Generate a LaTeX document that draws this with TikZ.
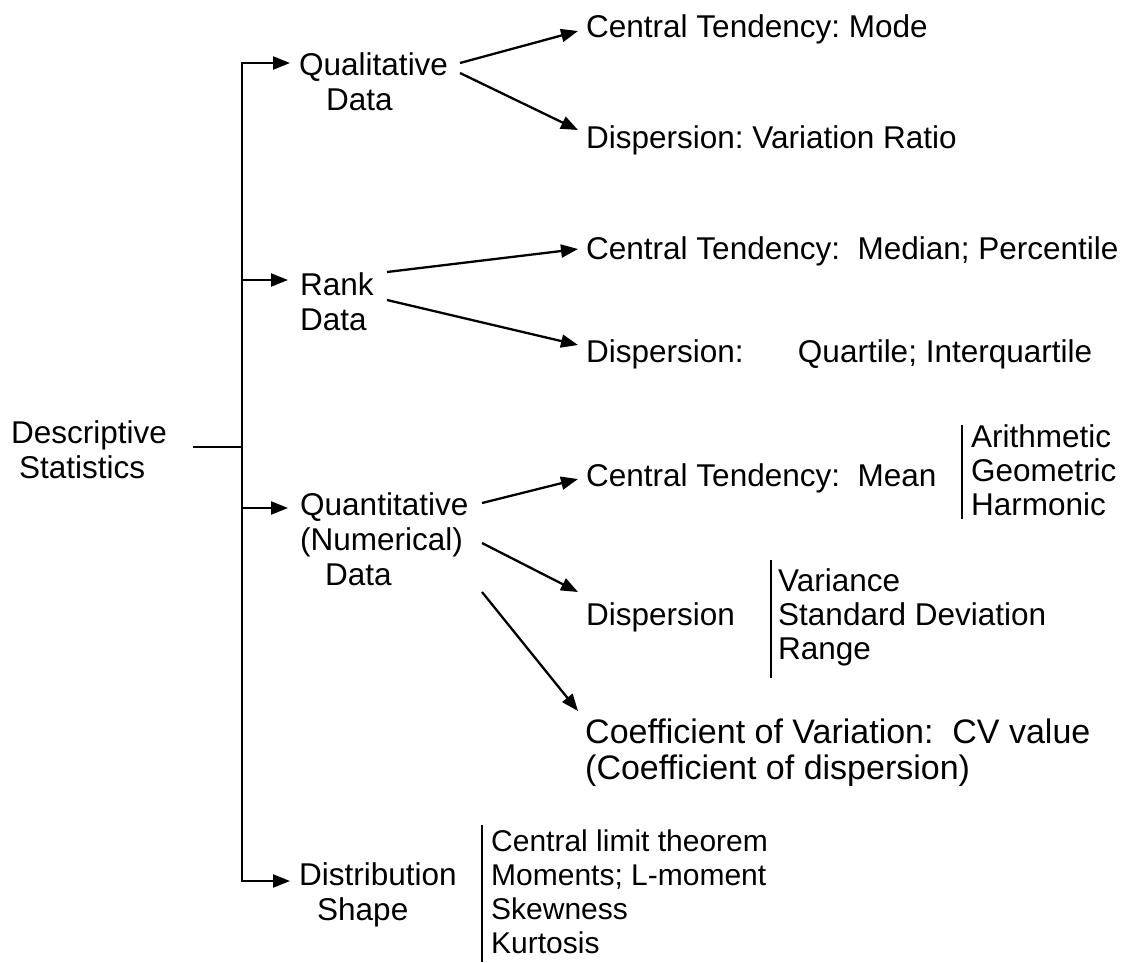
\documentclass[tikz,border=0pt]{standalone}
\usepackage{fontspec}
\setmainfont{Liberation Sans}[Ligatures=CommonOff]
\usetikzlibrary{arrows.meta}
\begin{document}
\frenchspacing
\begin{tikzpicture}[x=1pt,y=-1pt,
  lbl/.style={font=\fontsize{31.5}{35}\selectfont\frenchspacing, inner sep=0pt, align=left, anchor=base west},
  lst/.style={font=\fontsize{31.5}{34}\selectfont\frenchspacing, inner sep=0pt, align=left, anchor=base west},
  big/.style={font=\fontsize{34}{36}\selectfont\frenchspacing},
  small/.style={font=\fontsize{30}{34}\selectfont\frenchspacing},
  ln/.style={line width=2.3pt},
  arr/.style={line width=2.3pt, -{Triangle[length=17pt,width=13pt]}},
  bar/.style={line width=1.7pt}]
\useasboundingbox (0,0) rectangle (1138,962);

% left labels (anchored at the baseline of the last line)
\node[lbl] (desc) at (11,478) {Descriptive\\\hspace*{8pt}Statistics};
\node[lbl] (qual) at (299,110) {Qualitative\\\hspace*{27pt}Data};
\node[lbl] (rank) at (300,330) {Rank\\Data};
\node[lbl] (quan) at (300,585) {Quantitative\\(Numerical)\\\hspace*{25pt}Data};
\node[lbl] (dist) at (299,920) {Distribution\\\hspace*{18pt}Shape};

% right labels
\node[lbl] (ctmode) at (586,37) {Central Tendency: Mode};
\node[lbl] (dvr) at (586,148) {Dispersion: Variation Ratio};
\node[lbl] (ctmed) at (586,259) {Central Tendency:\ \ Median; Percentile};
\node[lbl] (dq) at (586,362) {Dispersion:\ \ \ \hspace{28pt}Quartile; Interquartile};
\node[lbl] (ctmean) at (586,486) {Central Tendency:\ \ Mean};
\node[lst] (means) at (971,515) {Arithmetic\\Geometric\\Harmonic};
\node[lbl] (disp) at (586,625) {Dispersion};
\node[lst] (dlist) at (778,659) {Variance\\Standard Deviation\\Range};
\node[lbl, big] (cv) at (585,779) {Coefficient of Variation:\ \ CV value\\(Coefficient of dispersion)};
\node[lst, small] (shape) at (491,953) {Central limit theorem\\Moments; L-moment\\Skewness\\Kurtosis};

% trunk
\coordinate (root-out) at (193,447);
\coordinate (root-in) at (242,447);
\coordinate (b-qual) at (242,63);
\coordinate (b-rank) at (242,280);
\coordinate (b-quan) at (242,508);
\coordinate (b-dist) at (242,881);

\draw[ln] (root-out) -- (root-in);
\draw[arr, shorten >=9pt] (root-in) -- (b-qual) -- (b-qual -| qual.west);
\draw[arr, shorten >=9pt] (root-in) -- (b-dist) -- (b-dist -| dist.west);
\draw[arr, shorten >=12pt] (b-rank) -- (b-rank -| rank.west);
\draw[arr, shorten >=12pt] (b-quan) -- (b-quan -| quan.west);

% branch arrows
\coordinate (q1s) at (460,63);  \coordinate (q1e) at (578,31);
\coordinate (q2s) at (460,73);  \coordinate (q2e) at (578,130);
\coordinate (r1s) at (387,272); \coordinate (r1e) at (578,249);
\coordinate (r2s) at (387,300); \coordinate (r2e) at (578,345);
\coordinate (n1s) at (482,503); \coordinate (n1e) at (578,479);
\coordinate (n2s) at (482,543); \coordinate (n2e) at (578,592);
\coordinate (n3s) at (482,592); \coordinate (n3e) at (578,711);
\draw[arr] (q1s) -- (q1e);
\draw[arr] (q2s) -- (q2e);
\draw[arr] (r1s) -- (r1e);
\draw[arr] (r2s) -- (r2e);
\draw[arr] (n1s) -- (n1e);
\draw[arr] (n2s) -- (n2e);
\draw[arr] (n3s) -- (n3e);

% bars
\coordinate (mb1) at (962,425); \coordinate (mb2) at (962,519);
\coordinate (db1) at (771,560); \coordinate (db2) at (771,678);
\coordinate (sb1) at (482,825); \coordinate (sb2) at (482,962);
\draw[bar] (mb1) -- (mb2);
\draw[bar] (db1) -- (db2);
\draw[bar] (sb1) -- (sb2);
\end{tikzpicture}
\end{document}
